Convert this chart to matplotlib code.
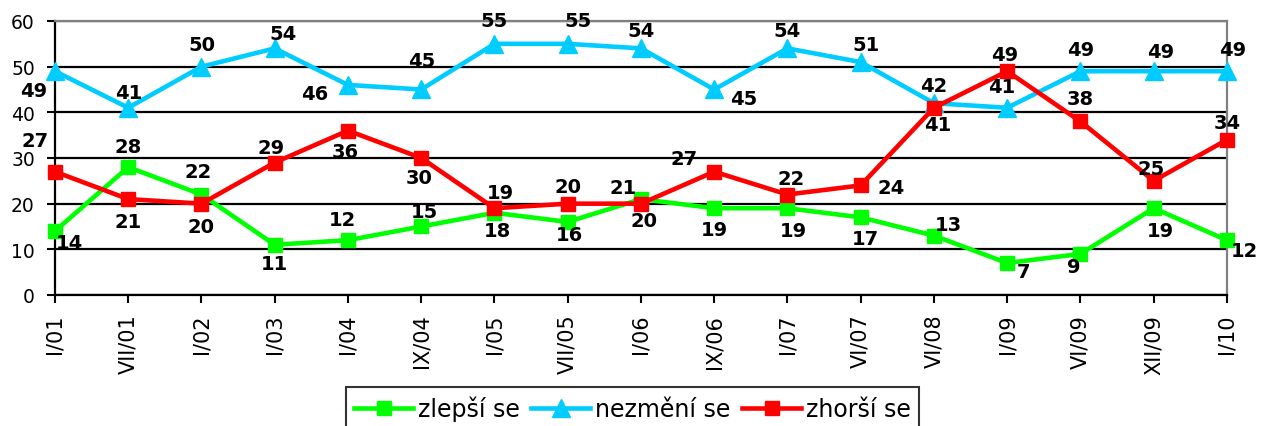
import numpy as np
import matplotlib
matplotlib.use('Agg')
import matplotlib.pyplot as plt

plt.rcParams['font.family'] = ['DejaVu Sans']

# Data
periods = ['I/01', 'VII/01', 'I/02', 'I/03', 'I/04', 'IX/04', 'I/05', 'VII/05', 'I/06',
           'IX/06', 'I/07', 'VI/07', 'VI/08', 'I/09', 'VI/09', 'XII/09', 'I/10']
zlepsi = [14, 28, 22, 11, 12, 15, 18, 16, 21, 19, 19, 17, 13, 7, 9, 19, 12]
nezmeni = [49, 41, 50, 54, 46, 45, 55, 55, 54, 45, 54, 51, 42, 41, 49, 49, 49]
zhorsi = [27, 21, 20, 29, 36, 30, 19, 20, 20, 27, 22, 24, 41, 49, 38, 25, 34]

# Label offsets in pixels (dx, dy).
off_zlepsi = [(14, -11), (0, 21), (-3, 23), (0, -19), (-6, 21), (3, 15), (3, -18), (2, -13),
              (-18, 12), (0, -21), (6, -22), (5, -21), (14, 11), (16, -8), (-7, -13), (7, -22), (17, -10)]
off_nezmeni = [(-21, -19), (0, 15), (0, 22), (8, 15), (-33, -9), (0, 29), (0, 23), (10, 23),
               (0, 18), (29, -9), (0, 18), (5, 18), (0, 18), (-6, 21), (0, 22), (7, 20), (6, 22)]
off_zhorsi = [(-20, 31), (0, -22), (0, -23), (-4, 15), (-3, -21), (-2, -20), (6, 16), (0, 17),
              (3, -17), (-30, 13), (4, 16), (30, -2), (4, -17), (-3, 17), (0, 23), (-3, 12), (0, 17)]

green = '#00FF00'
blue = '#00CCFF'
red = '#FF0000'

fig = plt.figure(figsize=(12.61, 4.27), dpi=100)
ax = fig.add_axes([0.0436, 0.3068, 0.9294, 0.6417])

x = np.arange(len(periods))
h_z = ax.plot(x, zlepsi, color=green, lw=3.3, marker='s', ms=9.5, zorder=3, clip_on=False)[0]
h_n = ax.plot(x, nezmeni, color=blue, lw=3.3, marker='^', ms=12.5, zorder=3, clip_on=False)[0]
h_h = ax.plot(x, zhorsi, color=red, lw=3.3, marker='s', ms=10, zorder=4, clip_on=False)[0]

for vals, offs in [(zlepsi, off_zlepsi), (nezmeni, off_nezmeni), (zhorsi, off_zhorsi)]:
    for i, v in enumerate(vals):
        ax.annotate(str(v), (x[i], v), xytext=offs[i], textcoords='offset pixels',
                    ha='center', va='center', fontsize=14, fontweight='bold', zorder=5,
                    annotation_clip=False)

ax.set_xlim(0, len(periods) - 1)
ax.set_ylim(0, 60)
ax.set_yticks(range(0, 61, 10))
ax.set_yticklabels(range(0, 61, 10), fontsize=13.5)
ax.set_xticks(x)
ax.set_xticklabels(periods, rotation=90, fontsize=15)
ax.tick_params(axis='both', direction='out', length=5.5, width=1.5, color='black')
ax.tick_params(axis='x', pad=8)
ax.tick_params(axis='y', pad=9)
ax.yaxis.grid(True, color='black', lw=1.6)
ax.set_axisbelow(True)

ax.spines['left'].set_color('black')
ax.spines['bottom'].set_color('black')
ax.spines['left'].set_linewidth(1.6)
ax.spines['bottom'].set_linewidth(1.6)
ax.spines['top'].set_color('#808080')
ax.spines['right'].set_color('#808080')
ax.spines['top'].set_linewidth(1.6)
ax.spines['right'].set_linewidth(1.6)

leg = fig.legend([h_z, h_n, h_h], ['zlepší se', 'nezmění se', 'zhorší se'],
                 loc='upper center', bbox_to_anchor=(0.5016, 0.0913), ncol=3,
                 fontsize=17, frameon=True, fancybox=False, edgecolor='black',
                 handlelength=2.5, handletextpad=0.2, columnspacing=0.5,
                 borderpad=0.35, borderaxespad=0, markerscale=1.0)
leg.get_frame().set_linewidth(1.5)

fig.savefig('out.png', dpi=100)
